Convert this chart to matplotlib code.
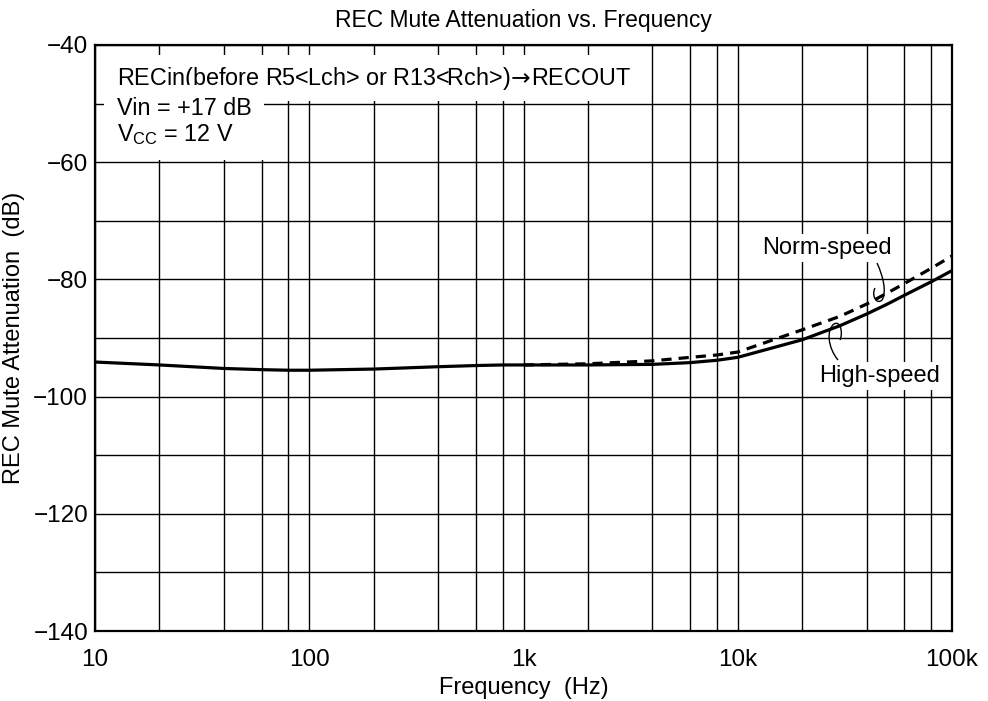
import numpy as np
import matplotlib
matplotlib.use("Agg")
import matplotlib.pyplot as plt
from matplotlib.path import Path
from matplotlib.patches import PathPatch
from matplotlib.ticker import FixedLocator, NullLocator

plt.rcParams['font.family'] = ['Liberation Sans', 'DejaVu Sans']
plt.rcParams['mathtext.fontset'] = 'dejavusans'
plt.rcParams['axes.unicode_minus'] = True

# ---- data ----
freq_high = [10, 20, 40, 60, 80, 100, 200, 400, 600, 800, 1000, 2000, 4000, 6000, 8000,
             10000, 20000, 30000, 40000, 50000, 60000, 80000, 100000]
high_speed = [-94.1, -94.6, -95.2, -95.4, -95.5, -95.5, -95.3, -94.9, -94.7, -94.6, -94.6, -94.6,
              -94.5, -94.2, -93.8, -93.3, -90.3, -87.9, -85.9, -84.2, -82.7, -80.4, -78.5]
freq_norm = [1000, 2000, 4000, 6000, 8000, 10000, 20000, 30000, 40000, 50000, 60000, 80000, 100000]
norm_speed = [-94.6, -94.4, -93.9, -93.3, -92.9, -92.4, -88.6, -86.3, -84.2, -82.3, -80.7, -78.1, -76.0]

x_ticks = [10, 100, 1000, 10000, 100000]
x_ticklabels = ["10", "100", "1k", "10k", "100k"]
y_ticks = [-140, -120, -100, -80, -60, -40]
y_ticklabels = ["\u2212140", "\u2212120", "\u2212100", "\u221280", "\u221260", "\u221240"]

W, H = 988, 701
fig = plt.figure(figsize=(W / 100, H / 100), dpi=100)
ax = fig.add_axes([95 / W, 1 - 631 / H, (952 - 95) / W, (631 - 45) / H])

# grid lines
grid_x = [m * d for d in [10, 100, 1000, 10000] for m in [1, 2, 4, 6, 8]] + [100000]
for gx in grid_x:
    ax.axvline(gx, color='black', lw=1.0, zorder=1)
for gy in range(-140, -30, 10):
    ax.axhline(gy, color='black', lw=1.0, zorder=1)

ax.plot(freq_norm, norm_speed, color='black', lw=2.3, ls=(0, (3.2, 2.2)), zorder=3)
ax.plot(freq_high, high_speed, color='black', lw=2.3, zorder=4)

ax.set_xscale('log')
ax.set_xlim(10, 100000)
ax.set_ylim(-140, -40)
ax.xaxis.set_major_locator(FixedLocator(x_ticks))
ax.xaxis.set_minor_locator(NullLocator())
ax.set_xticks(x_ticks)
ax.set_xticklabels(x_ticklabels)
ax.set_yticks(y_ticks)
ax.set_yticklabels(y_ticklabels)
ax.tick_params(axis='both', length=0, labelsize=17.5)
ax.tick_params(axis='x', pad=13)
ax.tick_params(axis='y', pad=5)
for s in ax.spines.values():
    s.set_linewidth(1.6)
    s.set_zorder(5)

ax.set_xlabel("Frequency  (Hz)", fontsize=17, labelpad=4)
ax.set_ylabel("REC Mute Attenuation  (dB)", fontsize=17, labelpad=6)
ax.set_title("REC Mute Attenuation vs. Frequency", fontsize=16.5, pad=13)

# condition texts with white background
ax.text(117 / W, 1 - 78 / H,
        "RECin(before R5<Lch> or R13<Rch>)$\\!\\rightarrow\\!$RECOUT",
        transform=fig.transFigure, fontsize=16.8, va='center', ha='left', zorder=6,
        bbox=dict(facecolor='white', edgecolor='none', pad=7))
ax.text(117 / W, 1 - 122 / H, "Vin = +17 dB\nV$_{\\mathregular{CC}}$ = 12 V",
        transform=fig.transFigure, fontsize=16.8, va='center', ha='left', zorder=6,
        linespacing=1.12,
        bbox=dict(facecolor='white', edgecolor='none', pad=9))

# curve labels
fig.text(827 / W, 1 - 248 / H, "Norm-speed", fontsize=17, ha='center', va='center', zorder=7,
         bbox=dict(facecolor='white', edgecolor='none', pad=2))
fig.text(880 / W, 1 - 376 / H, "High-speed", fontsize=17, ha='center', va='center', zorder=7,
         bbox=dict(facecolor='white', edgecolor='none', pad=2))


def px(x, y):
    return (x / W, 1 - y / H)


norm_hook = [px(877, 263), px(883, 276), px(887, 292), px(882, 300),
             px(877, 305), px(871, 296), px(875, 288)]
high_hook = [px(838, 360), px(828, 348), px(826, 330), px(834, 324),
             px(841, 320), px(843, 334), px(840, 340)]
codes = [Path.MOVETO, Path.CURVE4, Path.CURVE4, Path.CURVE4, Path.CURVE4, Path.CURVE4, Path.CURVE4]
for pts in (norm_hook, high_hook):
    fig.add_artist(PathPatch(Path(pts, codes), transform=fig.transFigure,
                             facecolor='none', edgecolor='black', lw=1.0, zorder=8))

fig.savefig("out.png", dpi=100, facecolor='white')
